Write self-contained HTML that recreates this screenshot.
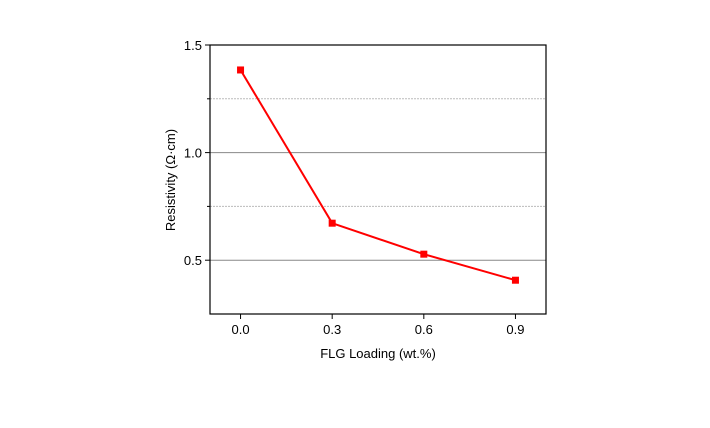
<!DOCTYPE html>
<html><head><meta charset="utf-8"><style>
body{margin:0;background:#fff;}
svg{display:block;font-family:"Liberation Sans",sans-serif;}
</style></head><body>
<svg id="c" width="710" height="428"></svg>
<script>
const categories=[0.0,0.3,0.6,0.9];
const resistivity=[1.384,0.672,0.528,0.407];
const xTickLabels=["0.0","0.3","0.6","0.9"];
const yTicks=[0.5,1.0,1.5];
const yTickLabels=["0.5","1.0","1.5"];
const yMinor=[0.75,1.25];
const L=210,R=546,T=45,B=314;
const xMin=-0.1,xMax=1.0,yMin=0.25,yMax=1.5;
const sx=v=>L+(v-xMin)/(xMax-xMin)*(R-L);
const sy=v=>B-(v-yMin)/(yMax-yMin)*(B-T);
const svg=document.getElementById('c');
const NS='http://www.w3.org/2000/svg';
function mk(tag,attrs,name){const e=document.createElementNS(NS,tag);for(const k in attrs)e.setAttribute(k,attrs[k]);


svg.appendChild(e);return e;}
yMinor.forEach(v=>{mk('line',{x1:L,x2:R,y1:sy(v),y2:sy(v),stroke:'#bbb','stroke-dasharray':'2,1'},'minor-gridline');
mk('line',{x1:L-3,x2:L,y1:sy(v),y2:sy(v),stroke:'#000'},'y-minor-tick');});
yTicks.forEach((v,i)=>{if(v<yMax)mk('line',{x1:L,x2:R,y1:sy(v),y2:sy(v),stroke:'#888'},'major-gridline');
mk('line',{x1:L-5,x2:L,y1:sy(v),y2:sy(v),stroke:'#000'},'y-tick');
const t=mk('text',{x:L-8,y:sy(v)+5,'text-anchor':'end','font-size':13,fill:'#000'},'y-tick-label');t.textContent=yTickLabels[i];});
mk('rect',{x:L,y:T,width:R-L,height:B-T,fill:'none',stroke:'#000','stroke-width':1.2},'plot-frame');
categories.forEach((v,i)=>{mk('line',{x1:sx(v),x2:sx(v),y1:B,y2:B+5,stroke:'#000'},'x-tick');
const t=mk('text',{x:sx(v),y:B+20,'text-anchor':'middle','font-size':13,fill:'#000'},'x-tick-label');t.textContent=xTickLabels[i];});
mk('polyline',{points:categories.map((v,i)=>sx(v)+','+sy(resistivity[i])).join(' '),fill:'none',stroke:'#f00','stroke-width':2},'resistivity-line');
categories.forEach((v,i)=>mk('rect',{x:sx(v)-3.5,y:sy(resistivity[i])-3.5,width:7,height:7,fill:'#f00'},'data-point'));
const xt=mk('text',{x:(L+R)/2,y:358,'text-anchor':'middle','font-size':13,fill:'#000'},'x-axis-title');xt.textContent='FLG Loading (wt.%)';
const yt=mk('text',{x:0,y:0,transform:'translate(175,180) rotate(-90)','text-anchor':'middle','font-size':13,fill:'#000'},'y-axis-title');yt.textContent='Resistivity (Ω·cm)';
</script>
</body></html>
